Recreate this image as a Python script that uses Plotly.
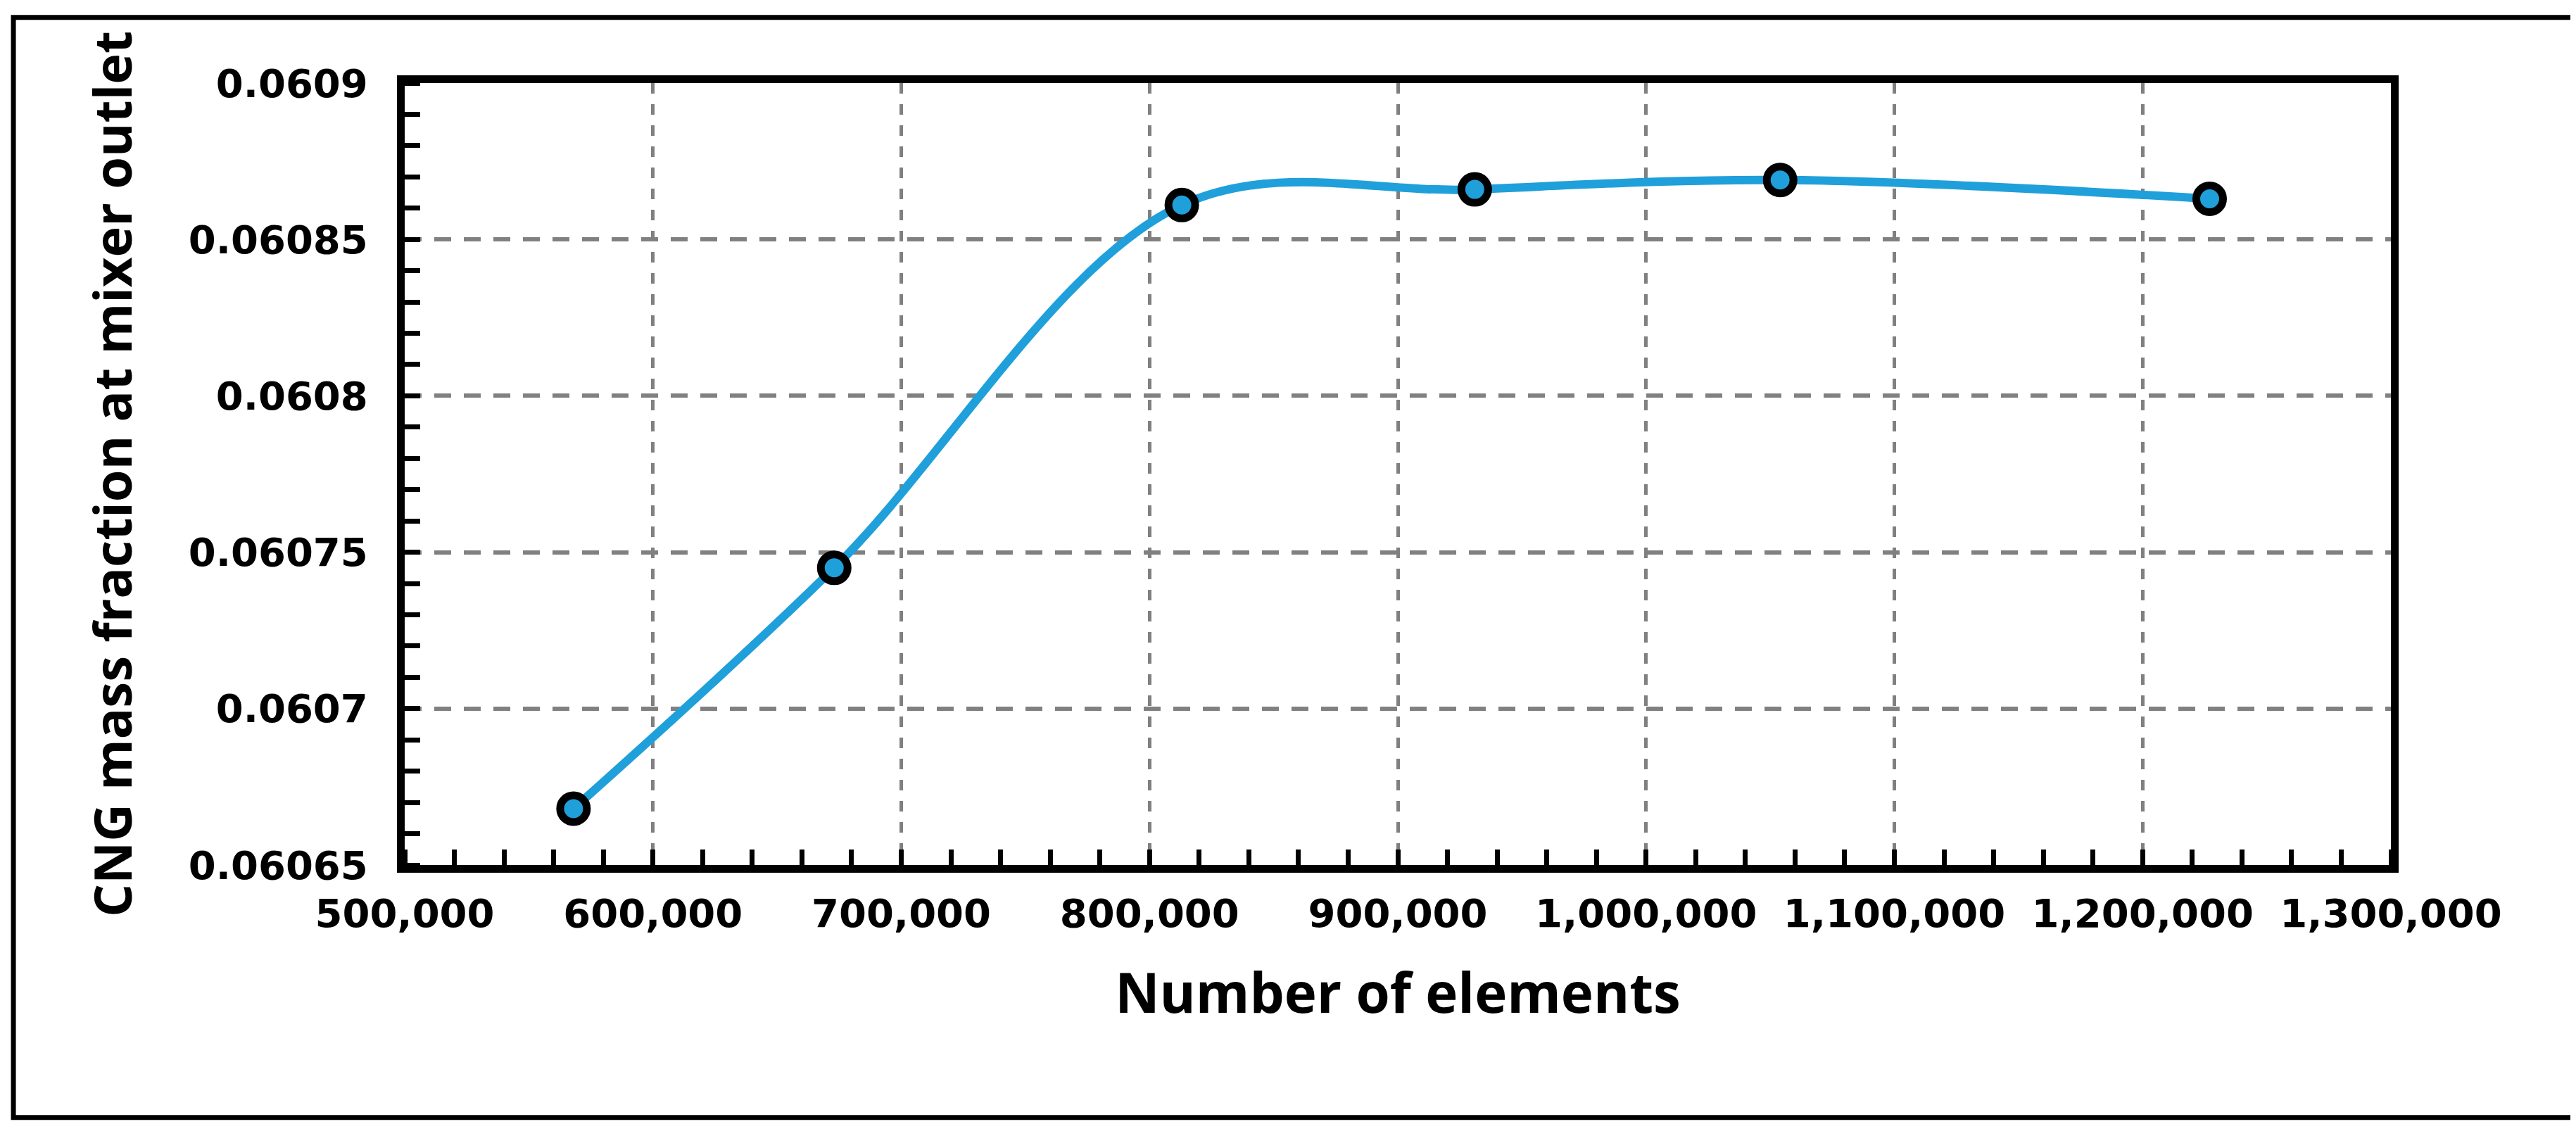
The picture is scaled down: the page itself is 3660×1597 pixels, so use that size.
import plotly.graph_objects as go

# Data
elements = [568000, 673000, 813000, 931000, 1054000, 1227000]
mass_fraction = [0.060668, 0.060745, 0.060861, 0.060866, 0.060869, 0.060863]

x_ticks = [500000, 600000, 700000, 800000, 900000, 1000000, 1100000, 1200000, 1300000]
y_ticks = [0.06065, 0.0607, 0.06075, 0.0608, 0.06085, 0.0609]
y_labels = ['0.06065', '0.0607', '0.06075', '0.0608', '0.06085', '0.0609']

fig = go.Figure()

fig.add_trace(go.Scatter(
    x=elements, y=mass_fraction, mode='lines+markers',
    line=dict(color='#1FA0DA', width=12, shape='spline', smoothing=1.0),
    marker=dict(size=38, color='#1FA0DA', line=dict(color='black', width=11)),
    showlegend=False
))

tick_font = dict(family='DejaVu Sans', size=56, color='black')

fig.update_xaxes(
    range=[500000, 1300000], tickvals=x_ticks,
    ticktext=[f'<b>{v:,}</b>' for v in x_ticks], tickfont=tick_font,
    showline=True, linecolor='black', linewidth=11, mirror=True,
    ticks='outside', ticklen=10, tickcolor='white',
    minor=dict(dtick=20000, ticks='inside', ticklen=22, tickwidth=7, tickcolor='black', showgrid=False),
    showgrid=True, gridcolor='#808080', gridwidth=5, griddash='dash',
    zeroline=False,
    title=dict(text='<b>Number of elements</b>', font=dict(family='Open Sans', size=78, color='black'), standoff=60)
)
fig.update_yaxes(
    range=[0.06065, 0.0609], tickvals=y_ticks,
    ticktext=[f'<b>{t}</b>' for t in y_labels],
    tickfont=tick_font,
    showline=True, linecolor='black', linewidth=11, mirror=True,
    ticks='outside', ticklen=30, tickcolor='white',
    minor=dict(dtick=0.00001, ticks='inside', ticklen=22, tickwidth=7, tickcolor='black', showgrid=False),
    showgrid=True, gridcolor='#808080', gridwidth=6, griddash='24px,18px',
    zeroline=False,
    title=dict(text='<b>CNG mass fraction at mixer outlet</b>', font=dict(family='Open Sans', size=74, color='black'), standoff=60)
)

# outer frame
fig.add_shape(type='rect', xref='paper', yref='paper',
              x0=-0.197, x1=1.1, y0=-0.323, y1=1.084,
              line=dict(color='black', width=7))

fig.update_layout(
    width=3660, height=1597,
    margin=dict(l=567, r=271, t=110, b=376),
    paper_bgcolor='white', plot_bgcolor='white',
    font=dict(family='DejaVu Sans', color='black')
)

fig.write_html("out.html")
